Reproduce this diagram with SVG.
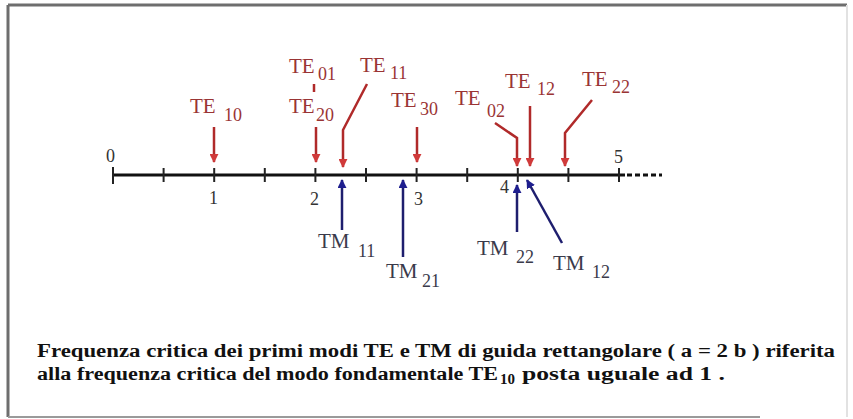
<svg xmlns="http://www.w3.org/2000/svg" width="853" height="419" viewBox="0 0 853 419">
<style>
text{font-family:'Liberation Serif','Times New Roman',serif}
.te{font-size:21px;fill:#9a3434}
.tes{font-size:18px;fill:#9a3434}
.tm{font-size:21px;fill:#3a3a4a}
.tms{font-size:18px;fill:#3a3a4a}
.num{font-size:18px;fill:#333}
.cap{font-size:18px;font-weight:bold;fill:#111}
.red{fill:none;stroke:#b02a2a;stroke-width:2.5}
.blue{fill:none;stroke:#1e1e6e;stroke-width:2.5}
.tick{stroke:#222;stroke-width:2}
</style>
<defs>
<marker id="ra" viewBox="0 0 10 10" refX="9" refY="5" markerWidth="9" markerHeight="9" markerUnits="userSpaceOnUse" orient="auto"><path d="M0,0 L10,5 L0,10 z" fill="#d03a3a"/></marker>
<marker id="ba" viewBox="0 0 10 10" refX="9" refY="5" markerWidth="9" markerHeight="9" markerUnits="userSpaceOnUse" orient="auto"><path d="M0,0 L10,5 L0,10 z" fill="#1e1e8e"/></marker>
</defs>
<rect x="0" y="0" width="853" height="419" fill="#fff"/>
<g id="frame">
<line x1="8" y1="5" x2="847" y2="5" stroke="#6e6e6e" stroke-width="3"/>
<line x1="8" y1="5" x2="8" y2="417" stroke="#6e6e6e" stroke-width="3"/>
<line x1="8" y1="417" x2="760" y2="417" stroke="#9a9a9a" stroke-width="2"/>
<line x1="847" y1="5" x2="847" y2="417" stroke="#e2e2e2" stroke-width="2"/>
</g>
<g id="axis">
<line x1="113" y1="175" x2="625" y2="175" stroke="#111" stroke-width="3"/>
<line x1="627" y1="175" x2="662" y2="175" stroke="#111" stroke-width="3" stroke-dasharray="5,3"/>
<line class="tick" x1="113" y1="167" x2="113" y2="184"/>
<line class="tick" x1="163.6" y1="168" x2="163.6" y2="182"/>
<line class="tick" x1="214.2" y1="168" x2="214.2" y2="182" stroke="#5a7a5a"/>
<line class="tick" x1="264.8" y1="168" x2="264.8" y2="182"/>
<line class="tick" x1="315.4" y1="168" x2="315.4" y2="182" stroke="#5a7a5a"/>
<line class="tick" x1="366" y1="168" x2="366" y2="182"/>
<line class="tick" x1="416.6" y1="168" x2="416.6" y2="182" stroke="#5a7a5a"/>
<line class="tick" x1="467.2" y1="168" x2="467.2" y2="182"/>
<line class="tick" x1="517.8" y1="168" x2="517.8" y2="182"/>
<line class="tick" x1="568.4" y1="168" x2="568.4" y2="182"/>
<line class="tick" x1="619" y1="168" x2="619" y2="182"/>
<text class="num" x="106" y="162">0</text>
<text class="num" x="209" y="204">1</text>
<text class="num" x="310" y="205">2</text>
<text class="num" x="414" y="205">3</text>
<text class="num" x="500" y="193">4</text>
<text class="num" x="614" y="163">5</text>
</g>
<g id="connectors">
<line class="red" x1="214" y1="127" x2="214" y2="162" marker-end="url(#ra)"/>
<line class="red" x1="316" y1="127" x2="316" y2="162" marker-end="url(#ra)"/>
<line x1="314" y1="84" x2="314" y2="92" stroke="#b02a2a" stroke-width="2.5"/>
<polyline class="red" points="367,84 343,130 343,167" marker-end="url(#ra)"/>
<line class="red" x1="417" y1="127" x2="417" y2="162" marker-end="url(#ra)"/>
<polyline class="red" points="495,123 517,138 517,166" marker-end="url(#ra)"/>
<line class="red" x1="530" y1="106" x2="530" y2="166" marker-end="url(#ra)"/>
<polyline class="red" points="592,100 565,133 565,166" marker-end="url(#ra)"/>
<line class="blue" x1="342" y1="230" x2="342" y2="180" marker-end="url(#ba)"/>
<line class="blue" x1="403" y1="257" x2="403" y2="180" marker-end="url(#ba)"/>
<line class="blue" x1="517" y1="232" x2="517" y2="185" marker-end="url(#ba)"/>
<line class="blue" x1="562" y1="243" x2="527" y2="180" marker-end="url(#ba)"/>
</g>
<g id="TE10"><text class="te" x="190" y="113">TE</text><text class="tes" x="224" y="121">10</text></g>
<g id="TE01"><text class="te" x="289" y="73">TE</text><text class="tes" x="318" y="80">01</text></g>
<g id="TE20"><text class="te" x="289" y="113">TE</text><text class="tes" x="316" y="121">20</text></g>
<g id="TE11"><text class="te" x="360" y="72">TE</text><text class="tes" x="390" y="79">11</text></g>
<g id="TE30"><text class="te" x="391" y="107">TE</text><text class="tes" x="420" y="115">30</text></g>
<g id="TE02"><text class="te" x="455" y="105">TE</text><text class="tes" x="487" y="117">02</text></g>
<g id="TE12"><text class="te" x="505" y="88">TE</text><text class="tes" x="537" y="95">12</text></g>
<g id="TE22"><text class="te" x="582" y="86">TE</text><text class="tes" x="612" y="93">22</text></g>
<g id="TM11"><text class="tm" x="318" y="248">TM</text><text class="tms" x="358" y="257">11</text></g>
<g id="TM21"><text class="tm" x="386" y="278">TM</text><text class="tms" x="422" y="287">21</text></g>
<g id="TM22"><text class="tm" x="477" y="255">TM</text><text class="tms" x="516" y="263">22</text></g>
<g id="TM12"><text class="tm" x="553" y="270">TM</text><text class="tms" x="592" y="278">12</text></g>
<g id="caption">
<text class="cap" x="37" y="357" textLength="798" lengthAdjust="spacingAndGlyphs">Frequenza critica dei primi modi TE e TM  di guida rettangolare ( a = 2 b ) riferita</text>
<text class="cap" x="37" y="380" textLength="461" lengthAdjust="spacingAndGlyphs">alla frequenza critica del modo fondamentale TE</text>
<text class="cap" x="500" y="384" font-size="15" style="font-size:15px">10</text>
<text class="cap" x="522" y="380" textLength="203" lengthAdjust="spacingAndGlyphs">posta  uguale ad 1 .</text>
</g>
</svg>
